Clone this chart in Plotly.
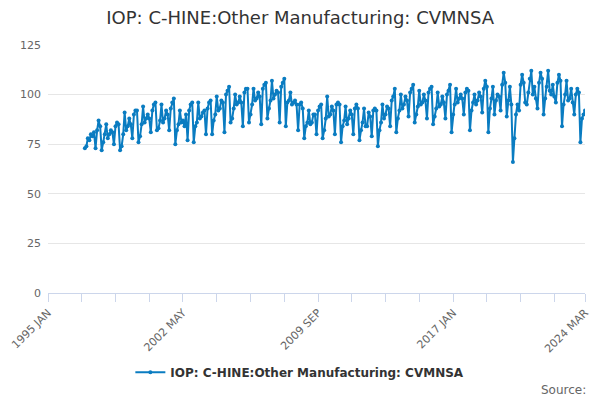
import pandas as pd
import plotly.graph_objects as go

# 月次データ (1997年1月〜2024年3月)
start_month = "1997-01-01"
v1997 = [73, 74, 78, 77, 80, 79, 81, 73, 82, 87, 84, 72]
v1998 = [76, 80, 85, 78, 80, 82, 81, 75, 84, 86, 85, 72]
v1999 = [74, 80, 91, 82, 84, 88, 85, 78, 90, 92, 92, 76]
v2000 = [79, 85, 94, 86, 88, 90, 88, 81, 92, 95, 96, 82]
v2001 = [83, 87, 95, 86, 88, 92, 90, 82, 93, 96, 98, 75]
v2002 = [82, 85, 92, 86, 87, 84, 90, 77, 92, 95, 96, 76]
v2003 = [84, 86, 96, 88, 89, 91, 92, 80, 93, 96, 97, 80]
v2004 = [87, 90, 99, 92, 93, 97, 96, 81, 100, 102, 104, 86]
v2005 = [88, 93, 100, 95, 96, 99, 96, 84, 101, 103, 103, 86]
v2006 = [90, 95, 103, 97, 98, 101, 99, 85, 103, 105, 106, 88]
v2007 = [93, 97, 107, 98, 100, 102, 101, 86, 104, 106, 108, 84]
v2008 = [96, 97, 101, 95, 96, 97, 95, 82, 95, 96, 93, 78]
v2009 = [84, 86, 92, 85, 86, 90, 90, 80, 92, 94, 95, 78]
v2010 = [82, 88, 99, 89, 90, 94, 92, 80, 95, 96, 95, 76]
v2011 = [84, 87, 94, 85, 88, 92, 90, 80, 93, 95, 93, 77]
v2012 = [82, 86, 93, 84, 84, 91, 89, 79, 92, 93, 92, 74]
v2013 = [82, 86, 95, 88, 90, 94, 93, 84, 97, 99, 103, 81]
v2014 = [88, 92, 100, 93, 95, 99, 97, 89, 101, 103, 105, 86]
v2015 = [90, 94, 102, 95, 96, 100, 97, 88, 101, 103, 104, 85]
v2016 = [89, 93, 101, 94, 95, 99, 96, 88, 100, 102, 105, 81]
v2017 = [90, 95, 103, 96, 98, 100, 98, 90, 101, 103, 102, 82]
v2018 = [92, 96, 100, 95, 97, 101, 99, 91, 103, 107, 104, 81]
v2019 = [93, 98, 104, 90, 97, 100, 99, 92, 105, 111, 106, 89]
v2020 = [97, 104, 95, 66, 78, 90, 95, 92, 105, 110, 106, 96]
v2021 = [95, 101, 108, 112, 100, 104, 98, 93, 106, 111, 108, 90]
v2022 = [98, 104, 112, 102, 100, 105, 99, 96, 106, 110, 107, 84]
v2023 = [95, 100, 107, 97, 98, 103, 96, 90, 100, 103, 101, 76]
v2024 = [88, 90, 92]

values = (v1997 + v1998 + v1999 + v2000 + v2001 + v2002 + v2003 + v2004 + v2005
          + v2006 + v2007 + v2008 + v2009 + v2010 + v2011 + v2012 + v2013 + v2014
          + v2015 + v2016 + v2017 + v2018 + v2019 + v2020 + v2021 + v2022 + v2023 + v2024)
dates = pd.date_range(start_month, periods=len(values), freq="MS")

#x軸の目盛り
tick_vals = ["1995-01-01", "2002-05-01", "2009-09-01", "2017-01-01", "2024-03-01"]
tick_text = ["1995 JAN", "2002 MAY", "2009 SEP", "2017 JAN", "2024 MAR"]
minor_vals = [d.strftime("%Y-%m-%d") for d in pd.date_range("1995-01-01", "2023-01-01", freq="22MS")] + ["2024-03-01"]

name = "IOP: C-HINE:Other Manufacturing: CVMNSA"
blue = "#0a7cc1"

#ページの余白(8px)分ずらしてある
fig = go.Figure(
    data=go.Scatter(
        x=dates,
        y=values,
        mode="lines+markers",
        name=name,
        line=dict(color=blue, width=2),
        marker=dict(color=blue, size=4),
    ),
    layout=go.Layout(
        width=600,
        height=400,
        paper_bgcolor="white",
        plot_bgcolor="white",
        font=dict(family="DejaVu Sans", color="#666666", size=11),
        margin=dict(l=40, r=23, t=37, b=115, autoexpand=False),
        title=dict(
            text=name,
            x=0.487,
            xanchor="center",
            y=0.975,
            yanchor="middle",
            font=dict(size=18, color="#333333"),
        ),
        xaxis=dict(
            type="date",
            automargin=False,
            range=["1995-01-01", "2024-03-01"],
            tickmode="array",
            tickvals=tick_vals,
            ticktext=tick_text,
            tickangle=-45,
            ticks="outside",
            ticklen=8,
            tickcolor="#ccd6eb",
            showline=True,
            linecolor="#ccd6eb",
            showgrid=False,
            zeroline=False,
            minor=dict(tickmode="array", tickvals=minor_vals, ticks="outside",
                       ticklen=8, tickcolor="#ccd6eb", showgrid=False),
        ),
        yaxis=dict(
            automargin=False,
            range=[0, 125],
            tickvals=[0, 25, 50, 75, 100, 125],
            gridcolor="#e6e6e6",
            zeroline=False,
            ticks="",
            ticklabelstandoff=6,
        ),
        showlegend=True,
        legend=dict(
            orientation="h",
            x=0.469,
            xanchor="center",
            y=-0.32,
            yanchor="middle",
            font=dict(size=12, color="#333333", weight="bold"),
        ),
        annotations=[
            dict(
                text="Source:",
                xref="paper",
                yref="paper",
                x=1.006,
                y=-0.391,
                xanchor="right",
                yanchor="middle",
                showarrow=False,
                font=dict(size=12, color="#666666"),
            )
        ],
    ),
)

fig.write_html("out.html")
